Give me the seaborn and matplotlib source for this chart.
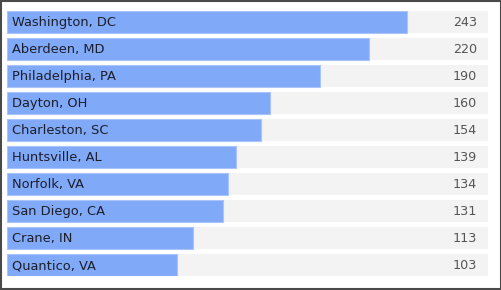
import matplotlib
matplotlib.use("Agg")
import matplotlib.pyplot as plt
import seaborn as sns
import pandas as pd
from matplotlib.patches import Rectangle

cities = ["Washington, DC", "Aberdeen, MD", "Philadelphia, PA", "Dayton, OH",
          "Charleston, SC", "Huntsville, AL", "Norfolk, VA", "San Diego, CA",
          "Crane, IN", "Quantico, VA"]
values = [243, 220, 190, 160, 154, 139, 134, 131, 113, 103]
axis_max = 292.2

df = pd.DataFrame({"city": cities, "value": values, "track": [axis_max] * len(cities)})

sns.set_theme(style="white")
plt.rcParams["font.family"] = ["DejaVu Sans"]

W, H = 502, 290
fig = plt.figure(figsize=(W / 100, H / 100), dpi=100)
fig.patch.set_facecolor("white")
ax = fig.add_axes([7 / W, 1 - 276 / H, (488 - 7) / W, (276 - 11) / H])

bw = 22 / 27
sns.barplot(data=df, y="city", x="track", orient="h", color="#F3F3F3",
            width=bw, saturation=1, ax=ax, linewidth=0)
sns.barplot(data=df, y="city", x="value", orient="h", color="#80A9F8",
            width=bw, saturation=1, ax=ax, edgecolor="#A9C4FA", linewidth=0.8)

ax.set_xlim(0, axis_max)
ax.set_ylim(len(cities) - 1 + bw / 2, -bw / 2)
ax.axis("off")

for i, (c, v) in enumerate(zip(cities, values)):
    ax.text(3, i + 0.03, c, va="center", ha="left", fontsize=9.4, color="#1E1E2A")
    ax.text(axis_max - 6.6, i + 0.03, str(v), va="center", ha="right",
            fontsize=9.2, color="#555555")

fig.patches.append(Rectangle((0.75 / W, 0.75 / H), 1 - 2.0 / W, 1 - 2.0 / H,
                             transform=fig.transFigure, fill=False,
                             edgecolor="#4a4a4a", linewidth=1.5))

fig.savefig("out.png", dpi=100)
